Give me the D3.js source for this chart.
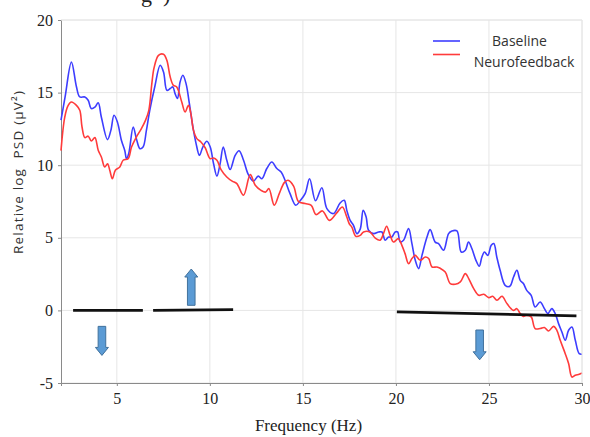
<!DOCTYPE html>
<html>
<head>
<meta charset="utf-8">
<script src="https://cdn.jsdelivr.net/npm/d3@7"></script>
<style>
  body { margin: 0; background: #fff; }
  svg { display: block; }
</style>
</head>
<body>
<svg id="chart"></svg>
<script>
// Baseline (blue) curve
const baselineHz = [2.0, 2.22, 2.56, 2.83, 3.01, 3.28, 3.46, 3.63, 3.82, 4.0, 4.17, 4.5, 4.68, 4.85, 5.03, 5.25, 5.43, 5.52, 5.64, 5.88,
  6.05, 6.24, 6.41, 6.59, 6.77, 7.04, 7.33, 7.51, 7.69, 7.87, 8.01, 8.13, 8.26, 8.4, 8.55, 8.72, 8.9, 9.09, 9.26, 9.44,
  9.62, 9.84, 10.02, 10.2, 10.38, 10.55, 10.72, 10.91, 11.09, 11.36, 11.57, 11.81, 12.07, 12.34, 12.6, 12.8, 13.06, 13.33, 13.6, 13.83,
  14.04, 14.31, 14.62, 14.85, 15.12, 15.36, 15.68, 16.02, 16.29, 16.65, 17.0, 17.22, 17.36, 17.54, 17.72, 17.9, 18.08, 18.24, 18.4, 18.53,
  18.8, 19.07, 19.25, 19.42, 19.6, 19.78, 19.96, 20.09, 20.23, 20.41, 20.68, 20.86, 21.04, 21.22, 21.4, 21.67, 21.84, 22.11, 22.29, 22.56,
  22.83, 23.01, 23.28, 23.51, 23.73, 23.9, 24.08, 24.3, 24.48, 24.62, 24.76, 24.94, 25.12, 25.26, 25.42, 25.6, 25.87, 26.12, 26.32, 26.5,
  26.68, 26.85, 27.03, 27.27, 27.48, 27.75, 27.98, 28.16, 28.38, 28.56, 28.74, 28.92, 29.1, 29.28, 29.46, 29.64, 29.85, 30.0];
const baselinePsd = [13.1, 14.7, 17.1, 15.4, 14.7, 14.7, 14.47, 13.9, 14.0, 14.3, 13.3, 11.76, 12.4, 13.44, 12.98, 11.7, 11.0, 10.45, 10.8, 12.63,
  11.83, 11.14, 11.25, 12.4, 13.78, 15.4, 16.88, 16.42, 15.16, 15.28, 15.39, 14.93, 14.59, 15.73, 16.19, 15.62, 14.24, 12.63, 11.49, 10.68,
  11.25, 11.65, 11.25, 10.1, 9.25, 10.1, 11.25, 10.34, 9.7, 10.68, 11.0, 10.34, 9.35, 8.9, 9.25, 9.07, 9.77, 10.22, 9.77, 9.53,
  8.96, 8.04, 7.24, 7.55, 8.04, 9.07, 7.55, 8.45, 7.01, 6.67, 7.4, 7.58, 6.89, 6.2, 5.86, 5.29, 5.6, 6.89, 6.43, 5.52,
  5.29, 5.4, 5.4, 4.83, 5.05, 5.05, 5.4, 5.4, 4.71, 4.83, 5.63, 4.6, 3.45, 2.88, 3.79, 5.05, 5.56, 4.7, 4.6, 4.14,
  5.29, 5.47, 5.47, 4.02, 4.14, 4.71, 4.26, 3.45, 3.04, 3.68, 4.02, 3.79, 4.48, 4.6, 3.68, 2.76, 1.73, 1.66, 2.3, 2.76,
  2.07, 1.85, 1.38, 1.04, 0.23, 0.58, 0.12, -0.22, 0.12, -0.22, -0.91, -1.49, -2.06, -1.37, -1.14, -2.06, -2.98, -3.02];

// Neurofeedback (red) curve
const feedbackHz = [2.0, 2.2, 2.38, 2.56, 2.83, 3.01, 3.13, 3.28, 3.46, 3.63, 3.82, 4.0, 4.17, 4.35, 4.5, 4.62, 4.76, 4.92, 5.16, 5.34,
  5.61, 5.79, 6.05, 6.32, 6.54, 6.72, 6.88, 7.0, 7.24, 7.51, 7.69, 7.87, 8.04, 8.22, 8.49, 8.67, 8.85, 8.98, 9.12, 9.3,
  9.52, 9.75, 10.02, 10.2, 10.38, 10.6, 10.91, 11.2, 11.45, 11.81, 12.17, 12.44, 12.75, 13.0, 13.17, 13.46, 13.73, 14.0, 14.2, 14.5,
  14.76, 15.12, 15.45, 15.7, 16.05, 16.42, 16.82, 17.12, 17.36, 17.5, 17.63, 17.85, 18.08, 18.26, 18.6, 18.88, 19.15, 19.33, 19.5, 19.69,
  19.87, 20.13, 20.32, 20.49, 20.68, 20.86, 21.04, 21.31, 21.58, 21.76, 21.94, 22.2, 22.38, 22.65, 22.92, 23.19, 23.46, 23.73, 23.91, 24.18,
  24.45, 24.72, 24.99, 25.2, 25.43, 25.7, 25.95, 26.2, 26.32, 26.5, 26.68, 26.85, 27.03, 27.27, 27.48, 27.75, 27.98, 28.2, 28.47, 28.65,
  28.83, 29.1, 29.28, 29.46, 29.64, 29.85, 30.0];
const feedbackPsd = [11.0, 13.3, 14.1, 14.35, 14.12, 13.78, 12.63, 11.9, 12.0, 11.67, 11.9, 11.03, 10.56, 9.88, 10.1, 9.65, 9.07, 9.65, 9.88, 10.34,
  10.45, 11.25, 11.94, 12.52, 13.09, 13.78, 15.6, 16.7, 17.57, 17.64, 17.22, 16.07, 15.5, 15.39, 14.35, 13.66, 14.12, 13.55, 12.4, 11.83,
  11.6, 11.2, 10.45, 10.5, 10.34, 9.7, 9.19, 8.9, 8.73, 7.93, 9.35, 8.62, 8.27, 8.15, 8.39, 7.24, 8.04, 8.8, 8.96, 8.56,
  7.5, 7.36, 7.24, 6.6, 6.85, 6.2, 6.72, 7.12, 6.43, 5.95, 5.74, 5.1, 5.17, 5.4, 5.4, 4.99, 4.83, 5.29, 5.8, 5.17,
  4.71, 4.94, 4.48, 3.91, 3.22, 3.57, 3.79, 3.45, 3.68, 3.57, 2.99, 2.99, 2.9, 2.64, 1.85, 1.8, 1.96, 2.53, 2.19, 1.5,
  1.04, 1.11, 0.88, 0.97, 0.7, 0.97, 0.5, 0.1, 0.0, 0.12, -0.22, -0.41, -0.34, -0.45, -1.25, -1.25, -1.18, -1.42, -1.1, -1.37,
  -2.06, -2.98, -3.66, -4.59, -4.47, -4.4, -4.31];

const xTicks = [5, 10, 15, 20, 25, 30];
const yTicks = [-5, 0, 5, 10, 15, 20];

// black trend segments: [hz0, psd0, hz1, psd1]
const trendLines = [
  [2.65, 0, 6.4, 0],
  [6.95, 0, 11.25, 0.05],
  [20.05, -0.1, 29.7, -0.38]
];
// arrows: hz, tail psd, head psd
const arrows = [
  [4.2, -1.1, -3.1],
  [9.0, 0.35, 2.85],
  [24.5, -1.35, -3.4]
];

const seriesNames = ["Baseline", "Neurofeedback"];
const seriesColors = ["#3d3dff", "#ff3b3b"];

const width = 590, height = 437;
const margin = { top: 20, right: 8, bottom: 54, left: 61 };
const iw = width - margin.left - margin.right;
const ih = height - margin.top - margin.bottom;

const svg = d3.select("#chart").attr("width", width).attr("height", height);

// clipped caption fragment at the very top
svg.append("text")
  .attr("x", 141).attr("y", 2)
  .attr("font-family", "Liberation Serif, serif")
  .attr("font-size", 22)
  .attr("fill", "#222")
  .attr("xml:space", "preserve")
  .text("g  )");

const g = svg.append("g").attr("transform", `translate(${margin.left},${margin.top})`);

const x = d3.scaleLinear().domain([2, 30]).range([0, iw]);
const y = d3.scaleLinear().domain([-5, 20]).range([ih, 0]);

// grid
g.append("g").selectAll("line").data(xTicks).join("line")
  .attr("x1", d => x(d)).attr("x2", d => x(d))
  .attr("y1", 0).attr("y2", ih)
  .attr("stroke", "#e6e6e6");
g.append("g").selectAll("line").data(yTicks).join("line")
  .attr("x1", 0).attr("x2", iw)
  .attr("y1", d => y(d)).attr("y2", d => y(d))
  .attr("stroke", "#e6e6e6");

// axes (plain hyphen for negatives, as in the figure)
const fmt = d => String(d);
const xAxis = g.append("g")
  .attr("transform", `translate(0,${ih})`)
  .call(d3.axisBottom(x).tickValues(xTicks).tickFormat(fmt).tickSize(3).tickPadding(7));
const yAxis = g.append("g")
  .call(d3.axisLeft(y).tickValues(yTicks).tickFormat(fmt).tickSize(3).tickPadding(5));
[xAxis, yAxis].forEach(a => {
  a.select(".domain").attr("stroke", "#8a8a8a");
  a.selectAll(".tick line").attr("stroke", "#8a8a8a");
  a.selectAll("text")
    .attr("font-family", "Liberation Serif, 'Times New Roman', serif")
    .attr("font-size", 16)
    .attr("fill", "#222");
});

// data lines
const line = d3.line()
  .x(d => x(d[0]))
  .y(d => y(d[1]))
  .curve(d3.curveCatmullRom.alpha(0.5));

const series = [
  d3.zip(baselineHz, baselinePsd),
  d3.zip(feedbackHz, feedbackPsd)
];
series.forEach((s, i) => {
  g.append("path")
    .datum(s)
    .attr("fill", "none")
    .attr("stroke", seriesColors[i])
    .attr("stroke-width", 1.6)
    .attr("stroke-linejoin", "round")
    .attr("d", line);
});

// trend segments
g.append("g").selectAll("line").data(trendLines).join("line")
  .attr("x1", d => x(d[0])).attr("y1", d => y(d[1]))
  .attr("x2", d => x(d[2])).attr("y2", d => y(d[3]))
  .attr("stroke", "#111")
  .attr("stroke-width", 2.6);

// block arrows
const shaft = 3.8, head = 6.5, headLen = 8;
g.append("g").selectAll("path").data(arrows).join("path")
  .attr("d", d => {
    const cx = x(d[0]), t = y(d[1]), h = y(d[2]);
    const dir = h > t ? 1 : -1;
    const neck = h - dir * headLen;
    return `M${cx - shaft},${t} L${cx + shaft},${t} L${cx + shaft},${neck} L${cx + head},${neck}
            L${cx},${h} L${cx - head},${neck} L${cx - shaft},${neck} Z`;
  })
  .attr("fill", "#5b9bd5")
  .attr("stroke", "#41719c")
  .attr("stroke-width", 1);

// frame top/right
g.append("line").attr("x1", 0).attr("x2", iw).attr("y1", 0).attr("y2", 0).attr("stroke", "#e6e6e6");
g.append("line").attr("x1", iw).attr("x2", iw).attr("y1", 0).attr("y2", ih).attr("stroke", "#e6e6e6");

// legend
const legend = svg.append("g");
seriesNames.forEach((name, i) => {
  const ly = 41 + i * 13.5;
  legend.append("line")
    .attr("x1", 433).attr("x2", 460)
    .attr("y1", ly).attr("y2", ly)
    .attr("stroke", seriesColors[i]).attr("stroke-width", 1.6);
});
legend.append("text")
  .attr("x", 519.5).attr("y", 46)
  .attr("text-anchor", "middle")
  .attr("font-family", "'Open Sans', sans-serif").attr("font-size", 14)
  .attr("fill", "#333")
  .text(seriesNames[0]);
legend.append("text")
  .attr("x", 524).attr("y", 66.5)
  .attr("text-anchor", "middle")
  .attr("font-family", "'Open Sans', sans-serif").attr("font-size", 14)
  .attr("fill", "#333")
  .text(seriesNames[1]);

// axis titles
svg.append("text")
  .attr("x", margin.left + x(15.3)).attr("y", 431)
  .attr("text-anchor", "middle")
  .attr("font-family", "Liberation Serif, 'Times New Roman', serif")
  .attr("font-size", 17)
  .attr("fill", "#222")
  .text("Frequency (Hz)");

svg.append("text")
  .attr("transform", "translate(23,172.5) rotate(-90)")
  .attr("text-anchor", "middle")
  .attr("font-family", "'Open Sans', sans-serif")
  .attr("font-size", 13.5)
  .attr("fill", "#333")
  .attr("xml:space", "preserve")
  .attr("textLength", 163)
  .attr("lengthAdjust", "spacing")
  .text("Relative log  PSD (\u00b5V\u00b2)");
</script>
</body>
</html>
